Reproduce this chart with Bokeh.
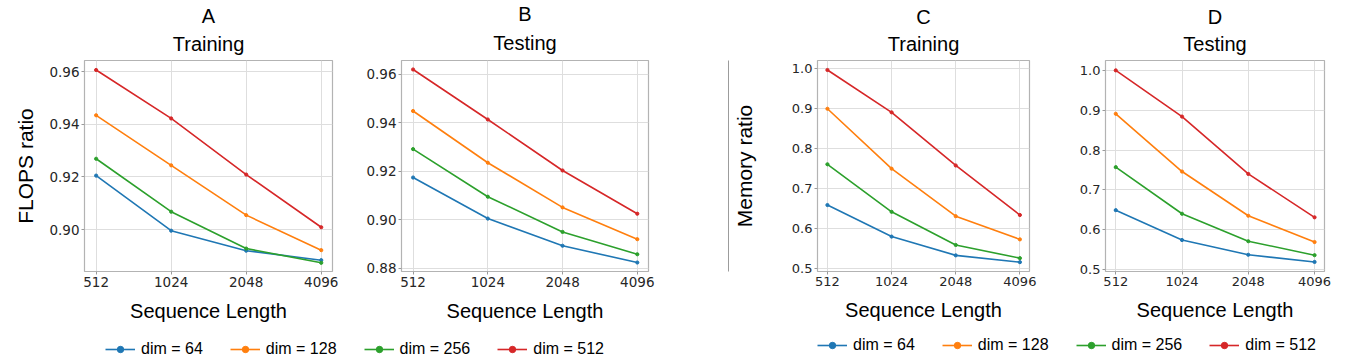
from bokeh.plotting import figure
from bokeh.layouts import row, column
from bokeh.models import Range1d, FixedTicker, NumeralTickFormatter, Legend, LegendItem, Title
from bokeh.embed import file_html
from bokeh.resources import INLINE

# ---------------- data ----------------
seq_lengths = [512, 1024, 2048, 4096]
dims = [64, 128, 256, 512]
colors = ["#1f77b4", "#ff7f0e", "#2ca02c", "#d62728"]
legend_labels = ["dim = 64", "dim = 128", "dim = 256", "dim = 512"]

# A: FLOPS ratio, training
flops_train_64 = [0.9205, 0.8996, 0.8920, 0.8884]
flops_train_128 = [0.9434, 0.9244, 0.9055, 0.8922]
flops_train_256 = [0.9269, 0.9068, 0.8928, 0.8874]
flops_train_512 = [0.9606, 0.9422, 0.9209, 0.9009]
# B: FLOPS ratio, testing
flops_test_64 = [0.9174, 0.9005, 0.8893, 0.8824]
flops_test_128 = [0.9448, 0.9235, 0.9051, 0.8920]
flops_test_256 = [0.9291, 0.9095, 0.8950, 0.8858]
flops_test_512 = [0.9619, 0.9413, 0.9203, 0.9025]
# C: Memory ratio, training
mem_train_64 = [0.658, 0.579, 0.532, 0.515]
mem_train_128 = [0.899, 0.749, 0.630, 0.572]
mem_train_256 = [0.760, 0.641, 0.558, 0.525]
mem_train_512 = [0.996, 0.890, 0.757, 0.633]
# D: Memory ratio, testing
mem_test_64 = [0.649, 0.574, 0.537, 0.519]
mem_test_128 = [0.891, 0.746, 0.635, 0.569]
mem_test_256 = [0.757, 0.640, 0.571, 0.536]
mem_test_512 = [1.000, 0.884, 0.740, 0.631]

flops_ticks = [0.88, 0.90, 0.92, 0.94, 0.96]
mem_ticks = [0.5, 0.6, 0.7, 0.8, 0.9, 1.0]

TXT = "Liberation Sans"
TICKF = "DejaVu Sans"
H = 330


def make_panel(letter, subtitle, series, yticks, yfmt, yrange, width, bl, br, top, bottom,
               ylabel=None, ylabel_standoff=10, tick_size="13.5px", title_gap=12):
    p = figure(width=width, height=H, x_axis_type="log",
               x_range=Range1d(512 / 2 ** 0.155, 4096 * 2 ** 0.15),
               y_range=Range1d(*yrange), output_backend="svg", toolbar_location=None,
               min_border_left=bl, min_border_right=br, min_border_top=top,
               min_border_bottom=H - bottom, title=letter)
    p.title.align = "center"
    p.title.text_font = TXT
    p.title.text_font_size = "20px"
    p.title.text_font_style = "normal"
    p.title.text_color = "#000000"
    p.title.text_line_height = 1.0
    p.title.standoff = -5
    t2 = Title(text=subtitle, align="center", text_font=TXT, text_font_size="20px",
               text_font_style="normal", text_color="#000000", standoff=title_gap,
               text_line_height=1.0)
    p.add_layout(t2, "above")
    for s, c in zip(series, colors):
        p.line(seq_lengths, s, line_color=c, line_width=1.6)
        p.scatter(seq_lengths, s, size=3.2, fill_color=c, line_color=c)
    p.xaxis.ticker = FixedTicker(ticks=seq_lengths, minor_ticks=[])
    p.xaxis.formatter = NumeralTickFormatter(format="0")
    p.yaxis.ticker = FixedTicker(ticks=yticks, minor_ticks=[])
    p.yaxis.formatter = NumeralTickFormatter(format=yfmt)
    for ax in (p.xaxis, p.yaxis):
        ax.axis_line_color = None
        ax.major_tick_line_color = "#9a9a9a"
        ax.minor_tick_line_color = None
        ax.major_tick_out = 3
        ax.major_tick_in = 0
        ax.major_label_text_font = TICKF
        ax.major_label_text_font_size = tick_size
        ax.major_label_text_color = "#262626"
        ax.axis_label_text_font = TXT
        ax.axis_label_text_font_style = "normal"
        ax.axis_label_text_color = "#000000"
    p.yaxis.major_label_standoff = 2
    p.xaxis.major_label_standoff = 2
    p.xaxis.axis_label = "Sequence Length"
    p.xaxis.axis_label_text_font_size = "20px"
    p.xaxis.axis_label_standoff = 10
    if ylabel:
        p.yaxis.axis_label = ylabel
        p.yaxis.axis_label_text_font_size = "21px"
        p.yaxis.axis_label_standoff = ylabel_standoff
    p.xgrid.grid_line_color = "#dedede"
    p.ygrid.grid_line_color = "#dedede"
    p.outline_line_color = "#b3b3b3"
    p.outline_line_width = 1.2
    return p


pA = make_panel("A", "Training",
                [flops_train_64, flops_train_128, flops_train_256, flops_train_512],
                flops_ticks, "0.00", (0.8841, 0.9642), 352, 84, 20, 58, 274,
                ylabel="FLOPS ratio", ylabel_standoff=9, title_gap=12)
pB = make_panel("B", "Testing",
                [flops_test_64, flops_test_128, flops_test_256, flops_test_512],
                flops_ticks, "0.00", (0.8787, 0.9656), 376, 49, 80, 60, 276, title_gap=14)
pC = make_panel("C", "Training",
                [mem_train_64, mem_train_128, mem_train_256, mem_train_512],
                mem_ticks, "0.0", (0.4916, 1.0198), 336, 82, 36, 57, 271,
                ylabel="Memory ratio", ylabel_standoff=33, tick_size="13px", title_gap=11)
pD = make_panel("D", "Testing",
                [mem_test_64, mem_test_128, mem_test_256, mem_test_512],
                mem_ticks, "0.0", (0.495, 1.0248), 305, 40, 46, 57, 271,
                tick_size="13px", title_gap=11)

# vertical divider between the two halves
pdiv = figure(width=1, height=H, output_backend="svg", toolbar_location=None,
              x_axis_location=None, y_axis_location=None,
              min_border_left=0, min_border_right=0, min_border_top=36, min_border_bottom=H - 325)
pdiv.grid.visible = False
pdiv.outline_line_color = None
pdiv.background_fill_color = "#3a3a3a"
pdiv.border_fill_color = "#ffffff"

# legend strip (series drawn outside the visible range; only the legend shows)
pl = figure(width=1370, height=31, output_backend="svg", toolbar_location=None,
            x_axis_location=None, y_axis_location=None, min_border=0,
            x_range=Range1d(0, 1), y_range=Range1d(0, 1))
pl.grid.visible = False
pl.outline_line_color = None

legend_series = [mem_test_64, mem_test_128, mem_test_256, mem_test_512]


def legend_items():
    items = []
    for lab, c, s in zip(legend_labels, colors, legend_series):
        r1 = pl.line(seq_lengths, s, line_color=c, line_width=1.6)
        r2 = pl.scatter(seq_lengths, s, size=3, fill_color=c, line_color=c)
        items.append(LegendItem(label=lab, renderers=[r1, r2]))
    return items


for loc in [(105, 3), (817, 7)]:
    lg = Legend(items=legend_items(), location=loc, orientation="horizontal",
                glyph_width=30, glyph_height=16, label_standoff=6, spacing=27,
                padding=0, margin=0, border_line_color=None, background_fill_alpha=0,
                label_text_font=TXT, label_text_font_size="16px", label_text_color="#000000")
    pl.add_layout(lg)

layout = column(row(pA, pB, pdiv, pC, pD), pl)

open("out.html", "w").write(file_html(layout, INLINE))
